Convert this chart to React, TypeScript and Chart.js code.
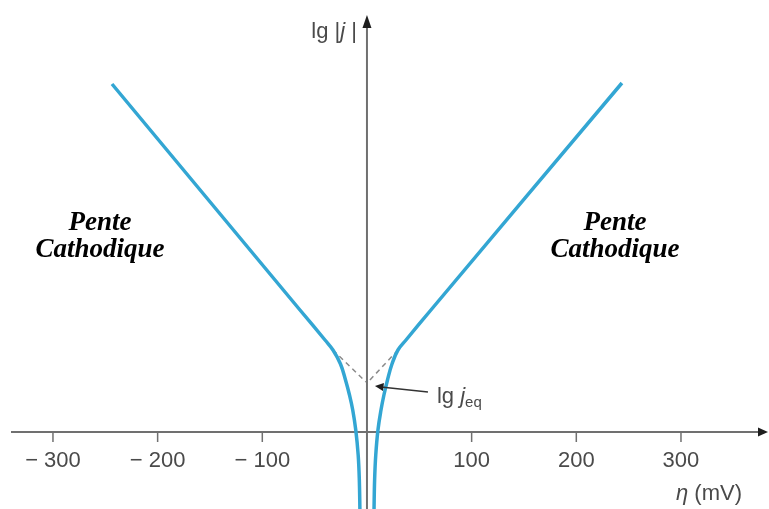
import React, { useEffect, useRef } from 'react';
import { Chart, registerables } from 'chart.js';

Chart.register(...registerables);

// η (mV) tick positions and their labels
const etaTicks = [-300, -200, -100, 100, 200, 300];
const tickLabels = ['− 300', '− 200', '− 100', '100', '200', '300'];

// Cathodic branch (η < 0): lg|j| vs η
const leftEta = [-243.6, -64.0, -40.1, -32.5, -25.3, -20.5, -16.7, -13.6, -10.7, -8.4, -7.3, -6.7];
const leftLgJ = [6.96, 2.44, 1.84, 1.64, 1.36, 1.04, 0.74, 0.44, 0.04, -0.46, -0.96, -1.6];

// Anodic branch (η > 0)
const rightEta = [6.7, 7.3, 8.4, 10.5, 13.4, 16.2, 19.6, 23.9, 29.6, 37.3, 61.1, 243.6];
const rightLgJ = [-1.6, -0.96, -0.46, 0.04, 0.44, 0.74, 1.04, 1.36, 1.64, 1.84, 2.44, 6.98];

// Tafel extrapolations (dashed) meeting at lg j_eq
const dashLeftEta = [-32.5, -1];
const dashLeftLgJ = [1.64, 1.0];
const dashRightEta = [29.6, 1];
const dashRightLgJ = [1.64, 1.0];
const lgJeq = 1.0;

// Region labels
const regionText = ['Pente', 'Cathodique'];
const regionEta = [-255, 237];
const regionLgJ = [4.04, 3.5];

const X_MIN = -350.6;
const X_MAX = 384.1;
const Y_MIN = -1.54;
const Y_MAX = 8.64;

const toXY = (xs: number[], ys: number[]) => xs.map((x, i) => ({ x, y: ys[i] }));

const overlay = {
  id: 'overlay',
  beforeDatasetsDraw(chart: any) {
    const { ctx, chartArea } = chart;
    const xs = chart.scales.x;
    const ys = chart.scales.y;
    const x0 = xs.getPixelForValue(0);
    const y0 = ys.getPixelForValue(0);
    ctx.save();
    ctx.strokeStyle = '#707070';
    ctx.lineWidth = 2;
    // x axis
    ctx.beginPath();
    ctx.moveTo(chartArea.left + 11, y0);
    ctx.lineTo(chartArea.right - 8, y0);
    ctx.stroke();
    // y axis
    ctx.beginPath();
    ctx.moveTo(x0, chartArea.bottom);
    ctx.lineTo(x0, chartArea.top + 26);
    ctx.stroke();
    // arrowheads
    ctx.fillStyle = '#1e1e1e';
    ctx.beginPath();
    ctx.moveTo(chartArea.right - 1, y0);
    ctx.lineTo(chartArea.right - 11, y0 - 4.5);
    ctx.lineTo(chartArea.right - 11, y0 + 4.5);
    ctx.closePath();
    ctx.fill();
    ctx.beginPath();
    ctx.moveTo(x0, chartArea.top + 15);
    ctx.lineTo(x0 - 4.5, chartArea.top + 28);
    ctx.lineTo(x0 + 4.5, chartArea.top + 28);
    ctx.closePath();
    ctx.fill();
    // ticks + labels
    ctx.lineWidth = 1.5;
    ctx.strokeStyle = '#707070';
    ctx.fillStyle = '#4a4a4a';
    ctx.font = '22px "Liberation Sans", Arial, sans-serif';
    ctx.textAlign = 'center';
    ctx.textBaseline = 'middle';
    etaTicks.forEach((t, i) => {
      const px = xs.getPixelForValue(t);
      ctx.beginPath();
      ctx.moveTo(px, y0);
      ctx.lineTo(px, y0 + 10);
      ctx.stroke();
      ctx.fillText(tickLabels[i], px, y0 + 29);
    });
    ctx.restore();
  },
  afterDatasetsDraw(chart: any) {
    const { ctx, chartArea } = chart;
    const xs = chart.scales.x;
    const ys = chart.scales.y;
    const x0 = xs.getPixelForValue(0);
    ctx.save();
    ctx.fillStyle = '#4a4a4a';
    ctx.textBaseline = 'alphabetic';
    ctx.textAlign = 'left';
    const normal = '22px "Liberation Sans", Arial, sans-serif';
    const italic = 'italic 22px "Liberation Sans", Arial, sans-serif';
    const sub = '15px "Liberation Sans", Arial, sans-serif';

    // η (mV) label
    {
      const parts: [string, string][] = [['η', italic], [' (mV)', normal]];
      let w = 0;
      parts.forEach(([t, f]) => { ctx.font = f; w += ctx.measureText(t).width; });
      let x = chartArea.right - 27 - w;
      const yb = chartArea.top + 500;
      parts.forEach(([t, f]) => { ctx.font = f; ctx.fillText(t, x, yb); x += ctx.measureText(t).width; });
    }
    // lg |j| label
    {
      const parts: [string, string][] = [['lg |', normal], ['j', italic], [' |', normal]];
      let w = 0;
      parts.forEach(([t, f]) => { ctx.font = f; w += ctx.measureText(t).width; });
      let x = x0 - 10 - w;
      const yb = chartArea.top + 38;
      parts.forEach(([t, f]) => { ctx.font = f; ctx.fillText(t, x, yb); x += ctx.measureText(t).width; });
    }
    // lg j_eq annotation
    {
      const ex = xs.getPixelForValue(0);
      const ey = ys.getPixelForValue(lgJeq);
      ctx.strokeStyle = '#333';
      ctx.lineWidth = 1.5;
      ctx.beginPath();
      ctx.moveTo(ex + 61, ey + 10);
      ctx.lineTo(ex + 14, ey + 5);
      ctx.stroke();
      ctx.fillStyle = '#1e1e1e';
      ctx.beginPath();
      ctx.moveTo(ex + 8, ey + 4);
      ctx.lineTo(ex + 17, ey + 1);
      ctx.lineTo(ex + 16, ey + 9);
      ctx.closePath();
      ctx.fill();
      ctx.fillStyle = '#4a4a4a';
      let x = ex + 70;
      const yb = ey + 21;
      ctx.font = normal; ctx.fillText('lg ', x, yb); x += ctx.measureText('lg ').width;
      ctx.font = italic; ctx.fillText('j', x, yb); x += ctx.measureText('j').width;
      ctx.font = sub; ctx.fillText('eq', x, yb + 4);
    }
    // region labels
    ctx.fillStyle = '#000';
    ctx.textAlign = 'center';
    ctx.font = 'italic bold 27px "Liberation Serif", "Times New Roman", serif';
    regionEta.forEach((eta) => {
      const px = xs.getPixelForValue(eta);
      regionText.forEach((t, i) => {
        ctx.fillText(t, px, ys.getPixelForValue(regionLgJ[i]));
      });
    });
    ctx.restore();
  },
};

export default function App() {
  const ref = useRef<HTMLCanvasElement>(null);
  useEffect(() => {
    if (!ref.current) return;
    const curve = '#33a6d3';
    const chart = new Chart(ref.current, {
      type: 'line',
      data: {
        datasets: [
          {
            data: toXY(leftEta, leftLgJ),
            borderColor: curve,
            borderWidth: 3.5,
            pointRadius: 0,
            tension: 0.4,
            fill: false,
          },
          {
            data: toXY(rightEta, rightLgJ),
            borderColor: curve,
            borderWidth: 3.5,
            pointRadius: 0,
            tension: 0.4,
            fill: false,
          },
          {
            data: toXY(dashLeftEta, dashLeftLgJ),
            borderColor: '#8a8a8a',
            borderWidth: 1.5,
            borderDash: [5, 4],
            pointRadius: 0,
            tension: 0,
          },
          {
            data: toXY(dashRightEta, dashRightLgJ),
            borderColor: '#8a8a8a',
            borderWidth: 1.5,
            borderDash: [5, 4],
            pointRadius: 0,
            tension: 0,
          },
        ],
      },
      options: {
        animation: false,
        responsive: false,
        layout: { padding: 0 },
        plugins: { legend: { display: false }, tooltip: { enabled: false }, title: { display: false } },
        scales: {
          x: { type: 'linear', min: X_MIN, max: X_MAX, display: false },
          y: { type: 'linear', min: Y_MIN, max: Y_MAX, display: false },
        },
      },
      plugins: [overlay],
    });
    return () => chart.destroy();
  }, []);
  return (
    <div style={{ position: 'fixed', left: 0, top: 0, width: 769, height: 509, background: '#fff' }}>
      <canvas ref={ref} width={769} height={509} />
    </div>
  );
}
